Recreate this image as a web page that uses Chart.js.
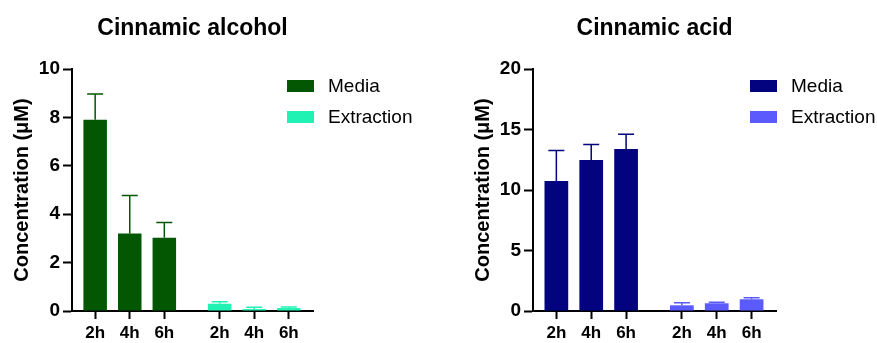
<!DOCTYPE html>
<html>
<head>
<meta charset="utf-8">
<script src="https://cdn.jsdelivr.net/npm/chart.js@4"></script>
<style>
  html, body { margin: 0; padding: 0; background: #fff; }
  #wrap { position: relative; width: 877px; height: 343px; }
  .box { position: absolute; top: 0; height: 343px; }
</style>
</head>
<body>
<div id="wrap">
  <div class="box" style="left:0;width:440px"><canvas id="c1"></canvas></div>
  <div class="box" style="left:440px;width:437px"><canvas id="c2"></canvas></div>
</div>
<script>
// time points and bar positions (media group, gap, extraction group)
const timeLabels = ['2h', '4h', '6h', '2h', '4h', '6h'];
const mediaX = [0, 1, 2];
const extractionX = [3.6, 4.6, 5.6];

// Cinnamic alcohol (µM): mean and top of error bar
const alcoholMedia = [7.9, 3.2, 3.03];
const alcoholMediaErr = [8.97, 4.77, 3.66];
const alcoholExtraction = [0.3, 0.08, 0.12];
const alcoholExtractionErr = [0.38, 0.15, 0.17];

// Cinnamic acid (µM)
const acidMedia = [10.74, 12.47, 13.38];
const acidMediaErr = [13.27, 13.77, 14.6];
const acidExtraction = [0.47, 0.64, 0.97];
const acidExtractionErr = [0.69, 0.72, 1.1];

const FONT = "'Liberation Sans', Arial, sans-serif";

// error bars + title + legend, drawn on the canvas
const extrasPlugin = {
    id: 'extras',
    afterDatasetsDraw(chart) {
        const ctx = chart.ctx;
        const y = chart.scales.y;
        chart.data.datasets.forEach((ds, i) => {
            const meta = chart.getDatasetMeta(i);
            ctx.save();
            ctx.strokeStyle = ds.backgroundColor;
            ctx.lineWidth = 1.5;
            meta.data.forEach((bar, j) => {
                const top = y.getPixelForValue(ds.errTop[j]);
                ctx.beginPath();
                ctx.moveTo(bar.x, bar.y);
                ctx.lineTo(bar.x, top);
                ctx.moveTo(bar.x - 8, top);
                ctx.lineTo(bar.x + 8, top);
                ctx.stroke();
            });
            ctx.restore();
        });
    },
    afterDraw(chart) {
        const ctx = chart.ctx;
        const area = chart.chartArea;
        const opts = chart.options.plugins.extras;
        ctx.save();
        ctx.fillStyle = '#000';
        ctx.font = 'bold 23px ' + FONT;
        ctx.textAlign = 'center';
        ctx.textBaseline = 'middle';
        ctx.fillText(opts.title, (area.left + area.right) / 2, 29);

        ctx.font = '19px ' + FONT;
        ctx.textAlign = 'left';
        chart.data.datasets.forEach((ds, i) => {
            const cy = 86 + i * 31;
            ctx.fillStyle = ds.backgroundColor;
            ctx.fillRect(area.right - 26, cy - 6, 27, 12);
            ctx.fillStyle = '#000';
            ctx.fillText(ds.label, area.right + 15, cy + 1);
        });
        ctx.restore();
    }
};

function makeChart(id, title, yMax, yStep, media, mediaErr, extr, extrErr, colMedia, colExtr, padRight) {
    const ctx = document.getElementById(id).getContext('2d');
    return new Chart(ctx, {
        type: 'bar',
        data: {
            datasets: [
                {
                    label: 'Media',
                    data: mediaX.map((x, i) => ({ x: x, y: media[i] })),
                    errTop: mediaErr,
                    backgroundColor: colMedia
                },
                {
                    label: 'Extraction',
                    data: extractionX.map((x, i) => ({ x: x, y: extr[i] })),
                    errTop: extrErr,
                    backgroundColor: colExtr
                }
            ]
        },
        options: {
            responsive: true,
            maintainAspectRatio: false,
            animation: false,
            grouped: false,
            barPercentage: 0.68,
            categoryPercentage: 1,
            layout: { padding: { top: 69, right: padRight, bottom: 0, left: 0 } },
            plugins: {
                legend: { display: false },
                tooltip: { enabled: false },
                extras: { title: title }
            },
            scales: {
                x: {
                    type: 'linear',
                    min: -0.67,
                    max: 6.3,
                    offset: false,
                    afterBuildTicks: (scale) => {
                        scale.ticks = mediaX.concat(extractionX).map(v => ({ value: v }));
                    },
                    afterFit: (scale) => { scale.height = 32; },
                    ticks: {
                        autoSkip: false,
                        maxRotation: 0,
                        padding: 4,
                        color: '#000',
                        font: { family: FONT, size: 17, weight: 'bold' },
                        callback: (v, i) => timeLabels[i]
                    },
                    grid: {
                        offset: false,
                        drawOnChartArea: false,
                        tickLength: 8,
                        tickWidth: 2,
                        tickColor: '#000'
                    },
                    border: { color: '#000', width: 2 }
                },
                y: {
                    min: 0,
                    max: yMax,
                    afterFit: (scale) => { scale.width = 72; },
                    ticks: {
                        stepSize: yStep,
                        padding: 3,
                        color: '#000',
                        font: { family: FONT, size: 19, weight: 'bold' }
                    },
                    grid: {
                        drawOnChartArea: false,
                        tickLength: 9,
                        tickWidth: 2,
                        tickColor: '#000'
                    },
                    border: { color: '#000', width: 2 },
                    title: {
                        display: true,
                        text: 'Concentration (μM)',
                        color: '#000',
                        padding: { top: 10, bottom: 0 },
                        font: { family: FONT, size: 20, weight: 'bold' }
                    }
                }
            }
        },
        plugins: [extrasPlugin]
    });
}

makeChart('c1', 'Cinnamic alcohol', 10, 2,
    alcoholMedia, alcoholMediaErr, alcoholExtraction, alcoholExtractionErr,
    '#035703', '#1ff2b2', 127);

// right canvas: chart area from 93 to 336 inside 437px box
const c2 = makeChart('c2', 'Cinnamic acid', 20, 5,
    acidMedia, acidMediaErr, acidExtraction, acidExtractionErr,
    '#03037f', '#5b5bfd', 101);
c2.options.scales.y.afterFit = (scale) => { scale.width = 93; };
c2.options.scales.y.title.padding = { top: 31, bottom: 0 };
c2.update();
</script>
</body>
</html>
